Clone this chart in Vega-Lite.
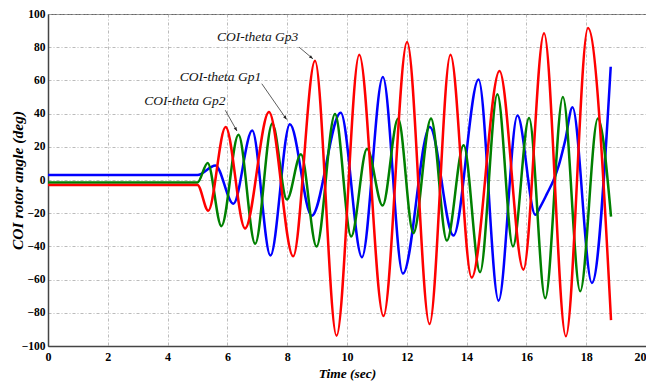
{
  "$schema": "https://vega.github.io/schema/vega-lite/v6.json",
  "width": 598,
  "height": 332,
  "autosize": {"type": "none"},
  "padding": {"left": 48, "top": 14, "right": 0, "bottom": 39},
  "background": "white",
  "datasets": {
    "series": [
      {"t": 0, "v": 3, "g": "Gp1"}, {"t": 5.0, "v": 3, "g": "Gp1"}, {"t": 5.6, "v": 8.8, "g": "Gp1"},
      {"t": 6.2, "v": -14.3, "g": "Gp1"}, {"t": 6.83, "v": 29.8, "g": "Gp1"}, {"t": 7.44, "v": -45.5, "g": "Gp1"},
      {"t": 8.09, "v": 33.6, "g": "Gp1"}, {"t": 8.82, "v": -21.5, "g": "Gp1"}, {"t": 9.79, "v": 40.5, "g": "Gp1"},
      {"t": 10.5, "v": -46.5, "g": "Gp1"}, {"t": 11.2, "v": 62, "g": "Gp1"}, {"t": 11.87, "v": -56.4, "g": "Gp1"},
      {"t": 12.77, "v": 32, "g": "Gp1"}, {"t": 13.56, "v": -33.5, "g": "Gp1"}, {"t": 14.4, "v": 60.5, "g": "Gp1"},
      {"t": 15.07, "v": -72.7, "g": "Gp1"}, {"t": 15.7, "v": 38.8, "g": "Gp1"}, {"t": 16.3, "v": -21, "g": "Gp1"},
      {"t": 16.46, "v": -16.3, "g": "Gp1"}, {"t": 16.69, "v": -8.2, "g": "Gp1"}, {"t": 16.91, "v": 0, "g": "Gp1"},
      {"t": 17.07, "v": 8, "g": "Gp1"}, {"t": 17.3, "v": 24, "g": "Gp1"}, {"t": 17.54, "v": 43.8, "g": "Gp1"},
      {"t": 18.19, "v": -62, "g": "Gp1"}, {"t": 18.82, "v": 68.2, "g": "Gp1"},

      {"t": 0, "v": -1.5, "g": "Gp2"}, {"t": 5.0, "v": -1.5, "g": "Gp2"}, {"t": 5.34, "v": 10.3, "g": "Gp2"},
      {"t": 5.8, "v": -27.8, "g": "Gp2"}, {"t": 6.37, "v": 27.2, "g": "Gp2"}, {"t": 6.93, "v": -38.4, "g": "Gp2"},
      {"t": 7.5, "v": 34, "g": "Gp2"}, {"t": 7.99, "v": -11.8, "g": "Gp2"}, {"t": 8.46, "v": 15.5, "g": "Gp2"},
      {"t": 8.98, "v": -40, "g": "Gp2"}, {"t": 9.6, "v": 39.7, "g": "Gp2"}, {"t": 10.14, "v": -34, "g": "Gp2"},
      {"t": 10.67, "v": 18.8, "g": "Gp2"}, {"t": 11.19, "v": -15.4, "g": "Gp2"}, {"t": 11.71, "v": 37, "g": "Gp2"},
      {"t": 12.22, "v": -32, "g": "Gp2"}, {"t": 12.81, "v": 37, "g": "Gp2"}, {"t": 13.34, "v": -36.5, "g": "Gp2"},
      {"t": 13.9, "v": 21, "g": "Gp2"}, {"t": 14.45, "v": -55.5, "g": "Gp2"}, {"t": 15.03, "v": 51.6, "g": "Gp2"},
      {"t": 15.55, "v": -40, "g": "Gp2"}, {"t": 16.09, "v": 37.3, "g": "Gp2"}, {"t": 16.63, "v": -71.3, "g": "Gp2"},
      {"t": 17.22, "v": 50, "g": "Gp2"}, {"t": 17.8, "v": -67, "g": "Gp2"}, {"t": 18.39, "v": 37, "g": "Gp2"},
      {"t": 18.83, "v": -22, "g": "Gp2"},

      {"t": 0, "v": -3, "g": "Gp3"}, {"t": 5.0, "v": -3, "g": "Gp3"}, {"t": 5.36, "v": -18.5, "g": "Gp3"},
      {"t": 5.94, "v": 32, "g": "Gp3"}, {"t": 6.59, "v": -29.2, "g": "Gp3"}, {"t": 7.39, "v": 41, "g": "Gp3"},
      {"t": 8.2, "v": -46, "g": "Gp3"}, {"t": 8.93, "v": 71.8, "g": "Gp3"}, {"t": 9.65, "v": -93.8, "g": "Gp3"},
      {"t": 10.41, "v": 75.4, "g": "Gp3"}, {"t": 11.22, "v": -82, "g": "Gp3"}, {"t": 12.01, "v": 83.2, "g": "Gp3"},
      {"t": 12.76, "v": -86.8, "g": "Gp3"}, {"t": 13.46, "v": 75.5, "g": "Gp3"}, {"t": 14.17, "v": -58.8, "g": "Gp3"},
      {"t": 15.1, "v": 65.6, "g": "Gp3"}, {"t": 15.9, "v": -54, "g": "Gp3"}, {"t": 16.59, "v": 88.4, "g": "Gp3"},
      {"t": 17.32, "v": -94.1, "g": "Gp3"}, {"t": 18.06, "v": 91.5, "g": "Gp3"}, {"t": 18.83, "v": -84.4, "g": "Gp3"}
    ],
    "notes": [
      {"label": "COI-theta Gp3", "tx": 7.01, "ty": 86, "x1": 8.4, "y1": 80, "x2": 8.86, "y2": 73},
      {"label": "COI-theta Gp1", "tx": 5.77, "ty": 62, "x1": 7.15, "y1": 58, "x2": 7.98, "y2": 36.5},
      {"label": "COI-theta Gp2", "tx": 4.58, "ty": 47.5, "x1": 5.93, "y1": 42, "x2": 6.32, "y2": 29.5}
    ]
  },
  "layer": [
    {
      "data": {"name": "series"},
      "mark": {"type": "line", "interpolate": "monotone", "strokeWidth": 2.5, "clip": true},
      "encoding": {
        "x": {"field": "t", "type": "quantitative", "scale": {"domain": [0, 20], "nice": false},
          "axis": {"values": [0, 2, 4, 6, 8, 10, 12, 14, 16, 18, 20], "tickCount": 11, "title": "Time (sec)", "titleX": 299, "titleY": 27, "titleBaseline": "middle", "titleAlign": "center", "labelPadding": 5, "labelFlush": false, "labelOverlap": false,
            "labelAlign": {"condition": {"test": "datum.value >= 20", "value": "right"}, "value": "center"}}},
        "y": {"field": "v", "type": "quantitative", "scale": {"domain": [-100, 100], "nice": false},
          "axis": {"values": [-100, -80, -60, -40, -20, 0, 20, 40, 60, 80, 100], "tickCount": 11, "title": "COI rotor angle (deg)", "titleX": -31, "titleY": 166, "titleAngle": -90, "titleBaseline": "middle", "titleAlign": "center", "labelPadding": 3, "titleFontSize": 15.5, "labelOverlap": false, "labelFlush": false, "labelFontSize": 11.5}},
        "color": {"field": "g", "type": "nominal", "scale": {"domain": ["Gp1", "Gp2", "Gp3"], "range": ["#0000ff", "#008000", "#ff0000"]}, "legend": null}
      }
    },
    {
      "data": {"name": "notes"},
      "mark": {"type": "rule", "color": "#333333", "strokeWidth": 0.8},
      "encoding": {
        "x": {"field": "x1", "type": "quantitative", "scale": {"domain": [0, 20], "nice": false}},
        "y": {"field": "y1", "type": "quantitative", "scale": {"domain": [-100, 100], "nice": false}},
        "x2": {"field": "x2"},
        "y2": {"field": "y2"}
      }
    },
    {
      "data": {"name": "notes"},
      "transform": [{"filter": "datum.label === 'COI-theta Gp3'"}],
      "mark": {"type": "point", "shape": "M0,0L-0.4,1L0.4,1Z", "filled": true, "color": "#222222", "size": 60, "opacity": 1, "angle": 130},
      "encoding": {
        "x": {"field": "x2", "type": "quantitative", "scale": {"domain": [0, 20], "nice": false}},
        "y": {"field": "y2", "type": "quantitative", "scale": {"domain": [-100, 100], "nice": false}}
      }
    },
    {
      "data": {"name": "notes"},
      "transform": [{"filter": "datum.label === 'COI-theta Gp1'"}],
      "mark": {"type": "point", "shape": "M0,0L-0.4,1L0.4,1Z", "filled": true, "color": "#222222", "size": 60, "opacity": 1, "angle": 145},
      "encoding": {
        "x": {"field": "x2", "type": "quantitative", "scale": {"domain": [0, 20], "nice": false}},
        "y": {"field": "y2", "type": "quantitative", "scale": {"domain": [-100, 100], "nice": false}}
      }
    },
    {
      "data": {"name": "notes"},
      "transform": [{"filter": "datum.label === 'COI-theta Gp2'"}],
      "mark": {"type": "point", "shape": "M0,0L-0.4,1L0.4,1Z", "filled": true, "color": "#222222", "size": 60, "opacity": 1, "angle": 151},
      "encoding": {
        "x": {"field": "x2", "type": "quantitative", "scale": {"domain": [0, 20], "nice": false}},
        "y": {"field": "y2", "type": "quantitative", "scale": {"domain": [-100, 100], "nice": false}}
      }
    },
    {
      "data": {"name": "notes"},
      "mark": {"type": "text", "font": "Liberation Serif", "fontStyle": "italic", "fontSize": 13.5, "color": "#111111", "align": "center", "baseline": "middle"},
      "encoding": {
        "x": {"field": "tx", "type": "quantitative", "scale": {"domain": [0, 20], "nice": false}},
        "y": {"field": "ty", "type": "quantitative", "scale": {"domain": [-100, 100], "nice": false}},
        "text": {"field": "label"}
      }
    }
  ],
  "config": {
    "view": {"stroke": "#666666", "strokeWidth": 1},
    "axis": {
      "labelFont": "Liberation Serif",
      "labelFontWeight": "bold",
      "labelFontSize": 12,
      "labelColor": "#000000",
      "titleFont": "Liberation Serif",
      "titleFontWeight": "bold",
      "titleFontStyle": "italic",
      "titleFontSize": 13.5,
      "titleColor": "#000000",
      "domainColor": "#444444",
      "domainWidth": 1.5,
      "ticks": false,
      "grid": true,
      "gridColor": "#aaaaaa",
      "gridDash": [3, 2, 1, 2],
      "gridWidth": 0.8
    }
  }
}
